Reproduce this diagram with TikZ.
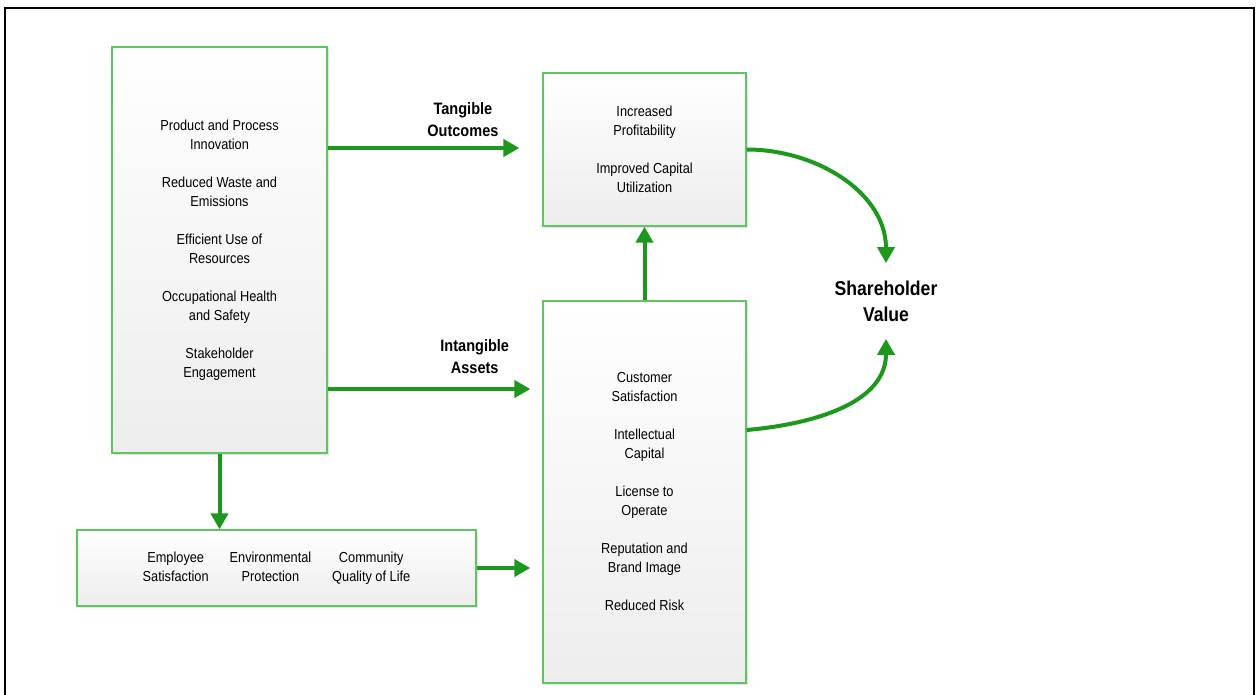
\documentclass[tikz,border=0pt]{standalone}
\usepackage{fontspec}
\setmainfont{Liberation Sans}[FakeStretch=0.88]
\usepackage{xcolor}
\usepackage{tikz}
\usetikzlibrary{arrows.meta, positioning, shadows}
\definecolor{boxgreen}{RGB}{96,196,96}
\definecolor{arrgreen}{RGB}{28,152,28}

\begin{document}
\begin{tikzpicture}[x=1pt, y=-1pt,
    box/.style={rectangle, draw=boxgreen, line width=1.3pt, top color=white, bottom color=black!7,
      drop shadow={shadow xshift=2pt, shadow yshift=-2pt, opacity=0.25, fill=black!40},
      font=\fontsize{14.5}{19}\selectfont, align=center, inner sep=0pt},
    lbl/.style={font=\fontsize{16.5}{22}\selectfont\bfseries, align=center},
    arr/.style={-{Triangle[length=16pt, width=17pt]}, line width=4pt, draw=arrgreen}]
    \useasboundingbox (0,0) rectangle (1257,695);
    \draw[line width=2pt] (5,700) -- (5,8) -- (1254,8) -- (1254,700);
    % boxes
    \node[box, minimum width=215pt, minimum height=406pt] (drivers) at (219.5,250) {Product and Process\\Innovation\\[19pt]Reduced Waste and\\Emissions\\[19pt]Efficient Use of\\Resources\\[19pt]Occupational Health\\and Safety\\[19pt]Stakeholder\\Engagement};
    \node[box, minimum width=203pt, minimum height=153pt] (tangible) at (644.5,149.5) {Increased\\Profitability\\[19pt]Improved Capital\\Utilization};
    \node[box, minimum width=203pt, minimum height=382pt] (intangible) at (644.5,492) {Customer\\Satisfaction\\[19pt]Intellectual\\Capital\\[19pt]License to\\Operate\\[19pt]Reputation and\\Brand Image\\[19pt]Reduced Risk};
    \node[box, minimum width=399pt, minimum height=76pt] (impacts) at (276.5,568) {\begin{tabular}{@{}c@{\hspace{21pt}}c@{\hspace{21pt}}c@{}}Employee & Environmental & Community\\Satisfaction & Protection & Quality of Life\end{tabular}};
    \node[font=\fontsize{20}{26}\selectfont\bfseries, align=center] (value) at (886,301) {Shareholder\\Value};
    % arrows
    \draw[arr, shorten >=23pt] ([yshift=102pt]drivers.east) -- ([yshift=102pt]drivers.east -| tangible.west) node[lbl, pos=0.63, above=6pt] {Tangible\\Outcomes};
    \draw[arr, shorten >=12pt] ([yshift=-139pt]drivers.east) -- ([yshift=-139pt]drivers.east -| intangible.west) node[lbl, pos=0.685, above=10pt] {Intangible\\Assets};
    \draw[arr] (drivers.south) -- (drivers.south |- impacts.north);
    \draw[arr, shorten >=12pt] (impacts.east) -- (impacts.east -| intangible.west);
    \draw[arr] (intangible.north) -- (tangible.south);
    \draw[arr] (tangible.east) to[out=0, in=90] ([yshift=14pt]value.north);
    \draw[arr] ([yshift=62pt]intangible.east) to[out=5, in=-90] ([yshift=-14pt]value.south);
  \end{tikzpicture}
\end{document}
